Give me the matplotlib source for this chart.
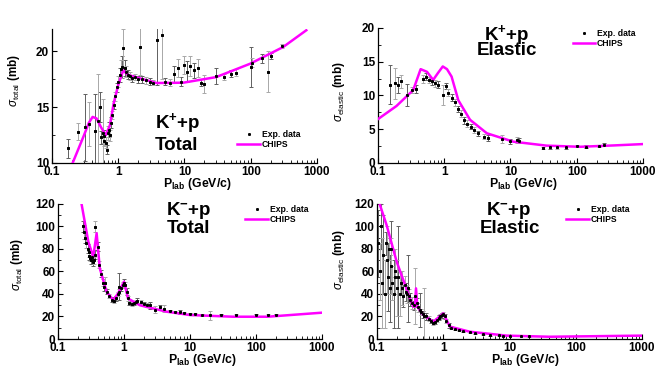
import matplotlib
matplotlib.use("Agg")
import matplotlib.pyplot as plt
import numpy as np
from matplotlib.ticker import AutoMinorLocator, LogLocator, NullFormatter

# ---------------- data ----------------
# K+ p total
kpt_p = [0.176, 0.25, 0.31, 0.36, 0.45, 0.5, 0.53, 0.59, 0.55, 0.6, 0.62, 0.65, 0.68, 0.7, 0.72,
         0.75, 0.78, 0.8, 0.85, 0.9, 0.95, 1.0, 1.05, 1.1, 1.15, 1.2, 1.25, 1.3, 1.4, 1.5, 1.6,
         1.8, 2.0, 2.1, 2.3, 2.6, 3.0, 3.3, 3.8, 4.6, 5.0, 6.0, 7.0, 8.0, 9.0, 10.0, 11.0, 12.0,
         14.0, 16.0, 18.0, 20.0, 30.0, 40.0, 50.0, 60.0, 100.0, 105.0, 150.0, 180.0, 200.0, 300.0]
kpt_sig = [11.3, 12.8, 13.2, 13.5, 12.9, 13.8, 15.0, 12.65, 12.3, 12.0, 12.4, 11.8, 11.2, 12.7, 13.0,
           12.5, 13.6, 14.3, 15.2, 16.0, 16.8, 17.3, 17.9, 18.4, 18.6, 20.3, 18.5, 18.2, 17.9, 17.8, 17.6,
           17.7, 17.5, 20.4, 17.5, 17.4, 17.3, 17.2, 21.0, 21.5, 17.3, 17.2, 18.0, 18.5, 17.3, 18.8, 18.2, 18.7,
           18.3, 18.5, 17.2, 17.1, 17.8, 17.7, 18.0, 18.1, 18.6, 19.0, 19.4, 18.2, 19.6, 20.5]
kpt_err = [0.85, 0.75, 3.0, 2.0, 3.3, 4.2, 1.35, 3.1, 0.6, 0.5, 0.6, 0.5, 0.4, 0.6, 0.7,
           0.5, 0.5, 0.4, 0.4, 0.4, 0.4, 0.5, 0.6, 0.8, 1.0, 1.7, 0.7, 0.5, 0.4, 0.4, 0.3,
           0.3, 0.3, 2.5, 0.3, 0.3, 0.3, 0.2, 4.0, 4.0, 0.3, 0.3, 0.7, 0.8, 0.4, 0.8, 0.9, 0.9,
           0.7, 0.8, 0.3, 0.8, 0.7, 0.3, 0.3, 0.3, 1.8, 0.4, 0.4, 1.8, 0.3, 0.2]
kpt_chips_p = [0.205, 0.3, 0.36, 0.41, 0.47, 0.55, 0.65, 0.75, 0.85, 1.0, 1.19, 1.4, 2.1, 3.8, 9.6,
               30.0, 98.0, 309.0, 690.0]
kpt_chips_sig = [10.0, 12.4, 13.6, 14.13, 14.0, 13.2, 12.5, 13.4, 15.3, 17.0, 18.3, 17.9, 17.6, 17.17, 17.2,
                 17.7, 18.9, 20.4, 21.9]

# K+ p elastic
kpe_p = [0.15, 0.178, 0.2, 0.22, 0.27, 0.33, 0.38, 0.48, 0.53, 0.58, 0.65, 0.72, 0.8, 0.96, 1.05,
         1.15, 1.3, 1.45, 1.6, 1.8, 2.0, 2.2, 2.5, 2.8, 3.2, 4.0, 4.6, 7.4, 9.8, 12.5, 13.5,
         31.0, 40.0, 50.0, 70.0, 100.0, 140.0, 220.0, 260.0]
kpe_sig = [11.6, 11.8, 11.6, 12.1, 10.1, 10.8, 11.0, 12.5, 12.8, 12.3, 12.1, 11.8, 11.6, 10.1, 11.4,
           10.4, 9.7, 9.0, 8.0, 7.3, 6.3, 5.8, 5.4, 4.9, 4.4, 3.9, 3.7, 3.5, 3.2, 3.4, 3.3,
           2.2, 2.3, 2.3, 2.3, 2.5, 2.4, 2.5, 2.7]
kpe_err = [2.9, 2.3, 1.2, 1.0, 1.6, 0.5, 0.6, 0.6, 0.5, 0.5, 0.5, 0.5, 0.5, 1.5, 0.5,
           0.5, 0.5, 0.5, 0.5, 0.5, 0.5, 0.5, 0.4, 0.4, 0.4, 0.4, 0.4, 0.6, 0.4, 0.4, 0.4,
           0.2, 0.2, 0.2, 0.2, 0.2, 0.2, 0.2, 0.2]
kpe_chips_p = [0.1, 0.19, 0.34, 0.44, 0.55, 0.68, 0.8, 0.95, 1.1, 1.29, 1.63, 2.45, 4.4, 11.0, 35.0,
               112.0, 360.0, 1000.0]
kpe_chips_sig = [6.5, 8.44, 10.8, 13.9, 13.5, 12.3, 13.3, 14.3, 13.9, 12.8, 9.3, 6.4, 4.4, 3.16, 2.57,
                 2.4, 2.6, 2.8]

# K- p total
kmt_p = [0.24, 0.25, 0.26, 0.27, 0.28, 0.29, 0.3, 0.31, 0.32, 0.33, 0.34, 0.35, 0.37, 0.363, 0.4,
         0.42, 0.45, 0.48, 0.5, 0.52, 0.55, 0.6, 0.65, 0.7, 0.75, 0.8, 0.846, 0.85, 0.9, 0.95, 1.0,
         1.05, 1.1, 1.15, 1.2, 1.3, 1.4, 1.5, 1.6, 1.8, 2.0, 2.2, 2.5, 3.0, 3.5, 4.0, 5.0, 6.0,
         7.0, 8.0, 10.0, 12.0, 15.0, 20.0, 30.0, 50.0, 100.0, 150.0, 200.0]
kmt_sig = [100, 95, 90, 85, 80, 77, 74, 72, 70, 73, 68, 70, 75, 99.8, 82,
           66, 58, 50, 46, 50, 42, 38, 35, 34, 36, 40, 46.5, 42, 45, 48, 50,
           48, 42, 36, 32, 31, 32, 33, 34, 33, 31, 30, 30, 26, 28, 27, 25, 24,
           24, 23, 22, 22, 21, 21, 21, 21, 21, 21, 21]
kmt_err = [5, 6, 5, 4, 4, 4, 4, 3, 3, 4, 3, 3, 4, 5, 4,
           3, 3, 3, 3, 5, 2, 2, 2, 2, 2, 2, 12, 2, 2, 3, 3,
           3, 3, 2, 2, 2, 2, 2, 2, 2, 2, 2, 3, 3, 2, 3, 1, 1,
           2, 1, 1, 1, 1, 4, 1, 1, 1, 1, 1]
kmt_chips_p = [0.228, 0.288, 0.342, 0.385, 0.43, 0.545, 0.687, 0.817, 1.0, 1.15, 1.74, 4.4, 10.0, 45.0,
               150.0, 1000.0]
kmt_chips_sig = [119.7, 86.5, 73.0, 94.0, 62.8, 42.0, 34.7, 40.6, 51.0, 36.0, 30.0, 24.3, 21.3, 19.8,
                 19.8, 23.4]

# K- p elastic
kme_p = [0.105, 0.11, 0.115, 0.12, 0.125, 0.13, 0.135, 0.14, 0.145, 0.15, 0.155, 0.16, 0.165, 0.17,
         0.18, 0.185, 0.19, 0.2, 0.21, 0.22, 0.23, 0.24, 0.25, 0.26, 0.27, 0.28, 0.29, 0.3, 0.32,
         0.34, 0.36, 0.38, 0.4, 0.42, 0.44, 0.46, 0.5, 0.52, 0.55, 0.6, 0.65, 0.7, 0.75, 0.8, 0.85,
         0.9, 0.95, 1.0, 1.05, 1.1, 1.2, 1.3, 1.5, 1.7, 2.0, 2.5, 3.0, 4.0, 5.0, 7.0, 8.0, 10.0,
         15.0, 20.0]
kme_sig = [85, 60, 100, 50, 75, 40, 85, 70, 55, 80, 45, 65, 80, 50,
           40, 60, 55, 45, 55, 40, 50, 45, 38, 48, 42, 40, 45, 38, 35,
           32, 30, 38, 32, 28, 26, 24, 22, 20, 20, 18, 16, 14, 15, 17, 19,
           20, 21, 22, 20, 16, 12, 10, 9, 8, 7, 6, 5, 4, 3.5, 3.2, 3.0, 2.8,
           2.6, 2.5]
kme_err = [30, 25, 20, 40, 35, 30, 10, 30, 30, 10, 30, 25, 25, 15,
           30, 20, 15, 25, 45, 20, 10, 15, 10, 8, 8, 8, 30, 6, 6,
           5, 4, 25, 4, 4, 15, 3, 3, 25, 3, 2, 2, 2, 2, 2, 2,
           2, 2, 2, 2, 2, 2, 1.5, 1, 1, 1, 1, 1, 0.5, 0.5, 0.5, 0.5, 0.5,
           0.3, 0.3]
kme_chips_p = [0.11, 0.14, 0.198, 0.315, 0.353, 0.372, 0.388, 0.406, 0.5, 0.71, 1.0, 1.26, 2.5, 9.0,
               40.0, 1000.0]
kme_chips_sig = [119.7, 101.0, 68.7, 36.0, 28.7, 28.7, 45.0, 28.7, 21.3, 15.4, 22.8, 11.0, 6.5, 3.0,
                 2.0, 3.0]

x_ticks = [0.1, 1, 10, 100, 1000]
x_ticklabels = ["0.1", "1", "10", "100", "1000"]

# ---------------- style ----------------
plt.rcParams['font.family'] = ['Liberation Sans', 'DejaVu Sans']
plt.rcParams['mathtext.fontset'] = 'custom'
plt.rcParams['mathtext.rm'] = 'Liberation Sans'
plt.rcParams['mathtext.bf'] = 'Liberation Sans:bold'
plt.rcParams['mathtext.it'] = 'Liberation Sans:italic'

MAG = '#ff00ff'
fig = plt.figure(figsize=(6.59, 3.69), dpi=100)

panels = [
    dict(rect=[0.0789, 0.5583, 0.4021, 0.3627], ylim=(10, 22), yticks=[10, 15, 20],
         p=kpt_p, s=kpt_sig, e=kpt_err, cp=kpt_chips_p, cs=kpt_chips_sig,
         ylab=r'$\sigma_{\rm total}$ (mb)', ylab_pos=(-0.113, 0.62),
         xlab_pos=(0.547, -0.10),
         t1=r'K$^{\mathbf{+}}$+p', t1_pos=(0.389, 0.261), t2='Total', t2_pos=(0.389, 0.097),
         leg=(0.70, 0.25)),
    dict(rect=[0.5736, 0.5583, 0.4021, 0.3659], ylim=(0, 20), yticks=[0, 5, 10, 15, 20],
         p=kpe_p, s=kpe_sig, e=kpe_err, cp=kpe_chips_p, cs=kpe_chips_sig,
         ylab=r'$\sigma_{\rm elastic}$ (mb)', ylab_pos=(-0.117, 0.526),
         xlab_pos=(0.547, -0.10),
         t1=r'K$^{\mathbf{+}}$+p', t1_pos=(0.40, 0.911), t2='Elastic', t2_pos=(0.374, 0.80),
         leg=(0.735, 0.995)),
    dict(rect=[0.0880, 0.0813, 0.4006, 0.3659], ylim=(0, 120), yticks=[0, 20, 40, 60, 80, 100, 120],
         p=kmt_p, s=kmt_sig, e=kmt_err, cp=kmt_chips_p, cs=kmt_chips_sig,
         ylab=r'$\sigma_{\rm total}$ (mb)', ylab_pos=(-0.125, 0.556),
         xlab_pos=(0.545, -0.095),
         t1=r'K$^{\mathbf{-}}$+p', t1_pos=(0.409, 0.918), t2='Total', t2_pos=(0.413, 0.785),
         leg=(0.71, 0.995)),
    dict(rect=[0.5721, 0.0813, 0.4021, 0.3659], ylim=(0, 120), yticks=[0, 20, 40, 60, 80, 100, 120],
         p=kme_p, s=kme_sig, e=kme_err, cp=kme_chips_p, cs=kme_chips_sig,
         ylab=r'$\sigma_{\rm elastic}$ (mb)', ylab_pos=(-0.113, 0.585),
         xlab_pos=(0.558, -0.095),
         t1=r'K$^{\mathbf{-}}$+p', t1_pos=(0.411, 0.918), t2='Elastic', t2_pos=(0.389, 0.785),
         leg=(0.715, 0.995)),
]

for i, pan in enumerate(panels):
    ax = fig.add_axes(pan['rect'])
    ax.set_xscale('log')
    ax.set_xlim(0.1, 1000)
    ax.set_ylim(*pan['ylim'])
    p = np.array(pan['p']); s = np.array(pan['s']); e = np.array(pan['e'])
    idx = np.arange(len(p))
    for sel, col in ((idx % 2 == 0, '#606060'), (idx % 2 == 1, '#a8a8a8')):
        ax.errorbar(p[sel], s[sel], yerr=e[sel], fmt='none', ecolor=col,
                    elinewidth=0.7, capsize=1.5, capthick=0.7, zorder=2)
    ax.plot(p, s, 's', color='black', ms=1.1, zorder=3, label='Exp. data')
    ax.plot(pan['cp'], pan['cs'], '-', color=MAG, lw=1.8, zorder=4, label='CHIPS')
    ax.plot(p, s, 's', color='black', ms=1.1, zorder=5)

    for sp in ('top', 'right'):
        ax.spines[sp].set_visible(False)
    for sp in ('left', 'bottom'):
        ax.spines[sp].set_linewidth(0.9)
    ax.set_xticks(x_ticks)
    ax.set_xticklabels(x_ticklabels)
    ax.xaxis.set_minor_locator(LogLocator(base=10, subs=np.arange(2, 10) * 1.0, numticks=20))
    ax.xaxis.set_minor_formatter(NullFormatter())
    ax.set_yticks(pan['yticks'])
    ax.yaxis.set_minor_locator(AutoMinorLocator(2))
    ax.tick_params(axis='both', which='major', direction='in', length=3.5, width=0.8,
                   labelsize=8.5, pad=2)
    ax.tick_params(axis='both', which='minor', direction='in', length=2, width=0.6)
    for lab in ax.get_xticklabels() + ax.get_yticklabels():
        lab.set_fontweight('bold')

    ax.set_ylabel(pan['ylab'], fontsize=8.5, fontweight='bold')
    ax.yaxis.set_label_coords(*pan['ylab_pos'])
    ax.set_xlabel(r'P$_{\mathbf{lab}}$ (GeV/c)', fontsize=8.8, fontweight='bold')
    ax.xaxis.set_label_coords(*pan['xlab_pos'])

    ax.text(*pan['t1_pos'], pan['t1'], transform=ax.transAxes, fontsize=13.5,
            fontweight='bold', va='baseline', ha='left')
    ax.text(*pan['t2_pos'], pan['t2'], transform=ax.transAxes, fontsize=13.5,
            fontweight='bold', va='baseline', ha='left')

    handles, labels = ax.get_legend_handles_labels()
    leg = ax.legend(handles[:2], labels[:2], loc='upper left', bbox_to_anchor=pan['leg'],
                    frameon=False, prop={'size': 6.2, 'weight': 'bold'}, handlelength=2.6,
                    handletextpad=0.2, labelspacing=0.12, borderpad=0, borderaxespad=0,
                    markerscale=1.0)

fig.savefig('out.png', dpi=100, facecolor='white')
